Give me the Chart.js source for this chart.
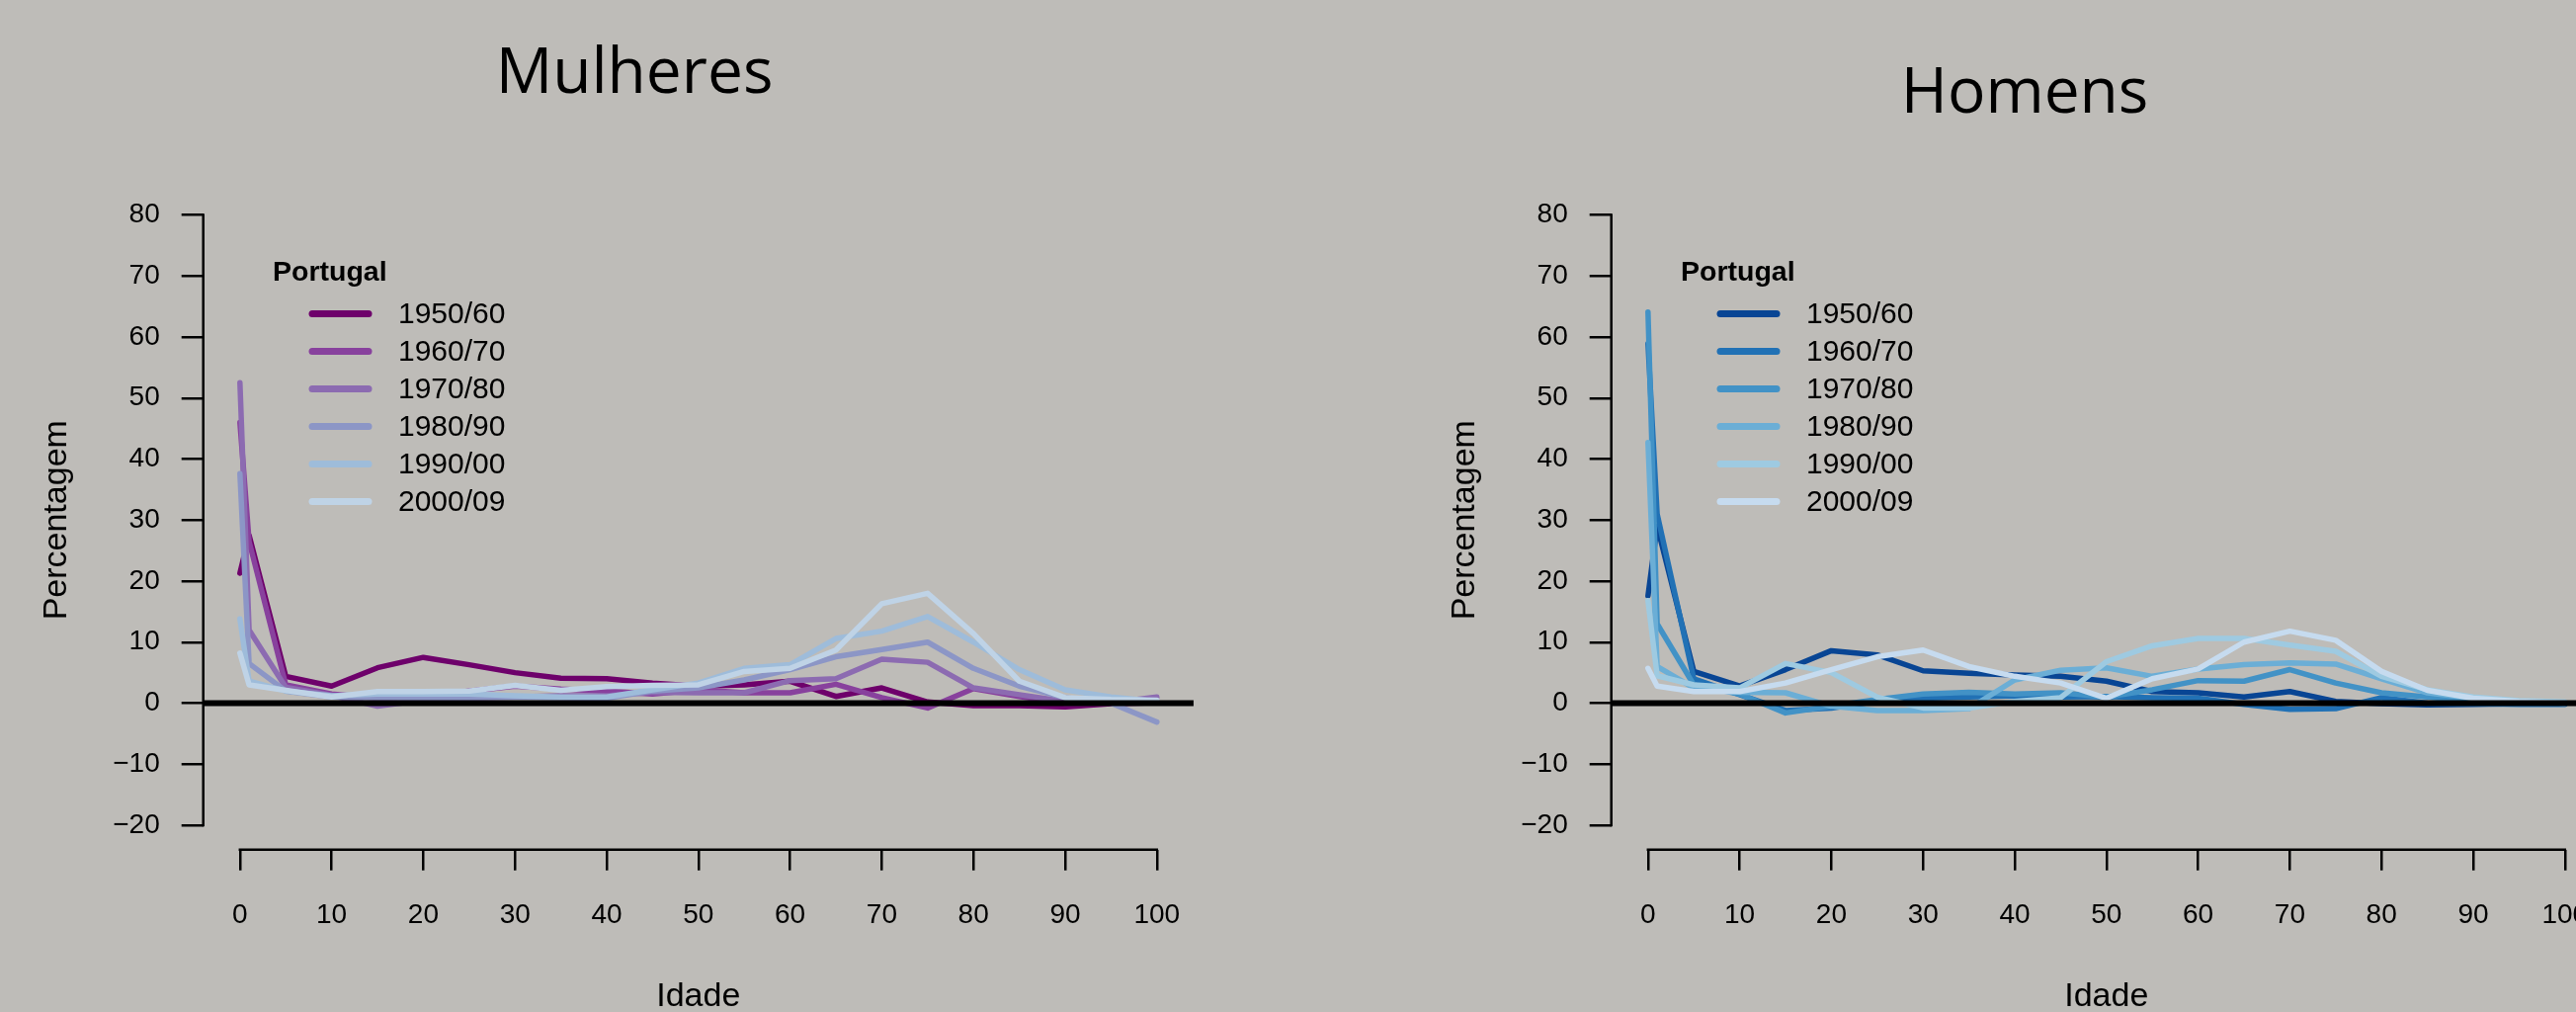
<!DOCTYPE html>
<html><head><meta charset="utf-8">
<script src="https://cdn.jsdelivr.net/npm/chart.js@4.4.1/dist/chart.umd.min.js"></script>
<style>
html,body{margin:0;padding:0;background:#bebcb8;width:2607px;height:1024px;overflow:hidden;}
.t{position:absolute;font-family:'Open Sans',sans-serif;font-size:64px;line-height:64px;color:#000;transform:translateX(-50%);white-space:nowrap;}
canvas{position:absolute;top:0;}
</style></head><body>
<div class="t" style="left:642px;top:38px">Mulheres</div>
<div class="t" style="left:2049px;top:58px">Homens</div>
<canvas id="c1" width="1300" height="1024" style="left:0"></canvas>
<canvas id="c2" width="1300" height="1024" style="left:1425px"></canvas>
<script>
// ---- data ----
const ages = [0,1,5,10,15,20,25,30,35,40,45,50,55,60,65,70,75,80,85,90,95,100];
const periods = ['1950/60','1960/70','1970/80','1980/90','1990/00','2000/09'];
const xTicks = [0,10,20,30,40,50,60,70,80,90,100];
const yTicks = [-20,-10,0,10,20,30,40,50,60,70,80];

const f1950 = [21.3,27.5,4.4,2.8,5.8,7.5,6.3,5.0,4.1,4.0,3.3,2.8,3.0,3.6,1.1,2.5,0.2,-0.4,-0.4,-0.6,-0.1,0.1];
const f1960 = [46.0,26.5,3.0,1.5,0.8,1.0,2.0,2.8,2.3,2.0,1.5,2.2,1.7,1.7,3.1,0.9,-0.8,2.4,1.1,0.0,0.0,0.3];
const f1970 = [52.5,12.0,2.6,1.3,-0.5,0.5,0.8,1.0,1.2,1.2,1.8,1.7,1.7,3.7,4.0,7.2,6.7,2.5,1.4,0.3,0.1,1.0];
const f1980 = [37.6,6.5,2.0,1.0,0.9,0.9,0.9,1.0,0.9,0.8,2.0,2.5,3.8,5.5,7.6,8.8,10.0,5.7,2.8,0.9,0.0,-3.1];
const f1990 = [13.8,3.6,2.0,1.2,1.5,1.5,1.5,1.2,1.0,1.0,2.2,3.3,5.7,6.3,10.6,11.8,14.2,10.0,5.5,2.2,1.0,0.3];
const f2000 = [8.2,3.0,2.1,1.0,1.9,1.9,2.0,2.9,2.1,2.7,2.9,3.0,5.2,5.7,8.7,16.3,18.0,11.4,3.6,0.9,0.6,0.5];

const m1950 = [17.6,29.0,5.2,2.8,5.5,8.6,7.9,5.3,4.9,4.6,4.4,3.6,1.9,1.7,1.0,1.9,0.3,-0.1,-0.3,-0.2,-0.1,0.0];
const m1960 = [58.9,31.0,4.0,1.4,-1.2,-0.8,0.3,0.8,1.0,1.2,1.0,1.1,0.9,0.8,-0.2,-1.0,-0.9,0.9,0.0,-0.1,-0.2,-0.2];
const m1970 = [64.1,13.0,3.0,1.5,-1.6,-0.5,0.6,1.5,1.8,1.5,1.7,1.0,2.2,3.7,3.6,5.5,3.3,1.7,1.0,0.3,0.0,0.0];
const m1980 = [42.7,6.0,2.5,1.8,1.7,-0.5,-1.2,-1.2,-0.9,3.8,5.4,5.8,4.4,5.6,6.3,6.6,6.4,4.0,1.7,0.8,0.3,0.0];
const m1990 = [16.8,4.5,3.0,2.5,6.5,5.0,1.0,-0.8,-0.8,0.3,0.9,6.8,9.4,10.6,10.6,9.5,8.5,4.4,2.2,1.0,0.4,0.2];
const m2000 = [5.7,2.8,1.9,1.9,3.3,5.5,7.6,8.7,6.0,4.4,3.3,0.8,4.0,5.6,10.0,11.8,10.3,5.2,2.1,0.8,0.3,0.0];

const purples = ['#6e016b','#88419d','#8c6bb1','#8c96c6','#9ebcda','#bfd3e6'];
const blues   = ['#084594','#2171b5','#4292c6','#6baed6','#9ecae1','#c6dbef'];
const legendTitle = 'Portugal';
const xTitle = 'Idade';
const yTitle = 'Percentagem';

// ---- plugins ----
const zeroLine = {
  id: 'zeroLine',
  afterDatasetsDraw(chart) {
    const {ctx, chartArea} = chart;
    const y0 = chart.scales.y.getPixelForValue(0);
    ctx.save();
    ctx.strokeStyle = '#000'; ctx.lineWidth = 6; ctx.lineCap = 'butt';
    ctx.beginPath(); ctx.moveTo(chartArea.left, y0); ctx.lineTo(chartArea.right, y0); ctx.stroke();
    ctx.restore();
  }
};
const rAxes = {
  id: 'rAxes',
  afterDraw(chart) {
    const {ctx} = chart; const xs = chart.scales.x, ys = chart.scales.y;
    ctx.save(); ctx.strokeStyle = '#000'; ctx.lineWidth = 2.5; ctx.lineCap = 'square';
    const xa = xs.getPixelForValue(xTicks[0]), xb = xs.getPixelForValue(xTicks[xTicks.length-1]);
    ctx.beginPath(); ctx.moveTo(xa, xs.top); ctx.lineTo(xb, xs.top); ctx.stroke();
    const ya = ys.getPixelForValue(yTicks[0]), yb = ys.getPixelForValue(yTicks[yTicks.length-1]);
    ctx.beginPath(); ctx.moveTo(ys.right, ya); ctx.lineTo(ys.right, yb); ctx.stroke();
    ctx.restore();
  }
};
const rLegend = {
  id: 'rLegend',
  afterDraw(chart, args, o) {
    const {ctx, chartArea} = chart;
    const x0 = chartArea.left + o.offsetX;
    ctx.save();
    ctx.textAlign = 'left'; ctx.textBaseline = 'middle'; ctx.fillStyle = '#000';
    ctx.font = 'bold 28.5px "Liberation Sans", Arial, sans-serif';
    ctx.fillText(o.title, x0, chartArea.top + o.titleY);
    chart.data.datasets.forEach((ds, i) => {
      const y = chartArea.top + o.firstY + i * o.rowH;
      ctx.strokeStyle = ds.borderColor; ctx.lineWidth = 7; ctx.lineCap = 'round';
      ctx.beginPath(); ctx.moveTo(x0 + 40, y); ctx.lineTo(x0 + 97, y); ctx.stroke();
      ctx.font = '30px "Liberation Sans", Arial, sans-serif';
      ctx.fillText(ds.label, x0 + 127, y + 1.5);
    });
    ctx.restore();
  }
};

Chart.defaults.font.family = '"Liberation Sans", Arial, sans-serif';
Chart.defaults.color = '#000';

function makeChart(id, seriesList, colors) {
  const n = seriesList.length;
  const datasets = seriesList.map((s, i) => ({
    label: periods[i],
    data: ages.map((a, k) => ({x: a, y: s[k]})),
    borderColor: colors[i],
    backgroundColor: colors[i],
    borderWidth: 5.5,
    pointRadius: 0,
    tension: 0,
    fill: false,
    borderCapStyle: 'round',
    borderJoinStyle: 'round',
    order: n - i
  }));
  const tickFont = {family: '"Liberation Sans", Arial, sans-serif', size: 28};
  const titleFont = {family: '"Liberation Sans", Arial, sans-serif', size: 34};
  return new Chart(document.getElementById(id), {
    type: 'line',
    data: {datasets},
    plugins: [zeroLine, rAxes, rLegend],
    options: {
      responsive: false, animation: false, devicePixelRatio: 1,
      layout: {padding: {left: 0, right: 92.1, top: 192.8, bottom: 0}},
      plugins: {
        legend: {display: false}, tooltip: {enabled: false},
        rLegend: {title: legendTitle, offsetX: 70.3, titleY: 83.6, firstY: 124.7, rowH: 38}
      },
      scales: {
        x: {
          type: 'linear', min: -4, max: 104,
          afterBuildTicks: s => { s.ticks = xTicks.map(v => ({value: v})); },
          afterFit: s => { s.height = 164.3; },
          grid: {drawOnChartArea: false, drawTicks: true, tickLength: 21, color: '#000', lineWidth: 2.5},
          border: {display: false},
          ticks: {color: '#000', font: tickFont, padding: 29, maxRotation: 0, minRotation: 0, autoSkip: false},
          title: {display: true, text: xTitle, color: '#000', font: titleFont, padding: {top: 0, bottom: -5}}
        },
        y: {
          type: 'linear', min: -24, max: 84,
          afterBuildTicks: s => { s.ticks = yTicks.map(v => ({value: v})); },
          afterFit: s => { s.width = 205.7; },
          grid: {drawOnChartArea: false, drawTicks: true, tickLength: 22, color: '#000', lineWidth: 2.5},
          border: {display: false},
          ticks: {color: '#000', font: tickFont, padding: 22, autoSkip: false,
                  callback: v => String(v).replace('-', '\u2212')},
          title: {display: true, text: yTitle, color: '#000', font: titleFont, padding: {top: 37.6, bottom: 0}}
        }
      }
    }
  });
}

makeChart('c1', [f1950, f1960, f1970, f1980, f1990, f2000], purples);
makeChart('c2', [m1950, m1960, m1970, m1980, m1990, m2000], blues);
</script>
</body></html>
